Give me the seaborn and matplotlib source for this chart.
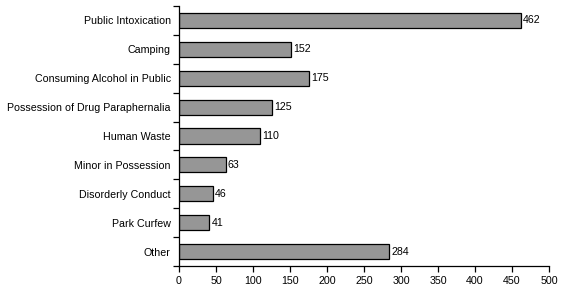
import matplotlib
matplotlib.use("Agg")
import matplotlib.pyplot as plt
import seaborn as sns
import pandas as pd
import numpy as np

categories = ["Public Intoxication", "Camping", "Consuming Alcohol in Public",
              "Possession of Drug Paraphernalia", "Human Waste", "Minor in Possession",
              "Disorderly Conduct", "Park Curfew", "Other"]
values = [462, 152, 175, 125, 110, 63, 46, 41, 284]
xticks = [0, 50, 100, 150, 200, 250, 300, 350, 400, 450, 500]

sns.set_style("white")
plt.rcParams['font.family'] = ['Liberation Sans', 'DejaVu Sans']
plt.rcParams['text.color'] = 'black'
plt.rcParams['xtick.color'] = 'black'
plt.rcParams['ytick.color'] = 'black'
plt.rcParams['axes.labelcolor'] = 'black'

df = pd.DataFrame({"category": categories, "value": values})

fig = plt.figure(figsize=(5.67, 2.98), dpi=100)
ax = fig.add_axes([179/567, 32/298, (549-179)/567, (292-32)/298])

sns.barplot(data=df, y="category", x="value", orient="h", color="#969696",
            edgecolor="black", linewidth=0.9, width=0.52, saturation=1, ax=ax)

fs = 7.7
for i, v in enumerate(values):
    ax.text(v + 3, i, str(v), va="center", ha="left", fontsize=fs, color="black")

ax.set_xlim(0, 500)
ax.set_ylim(len(categories) - 0.5, -0.5)
ax.set_xticks(xticks)
ax.set_xticklabels([str(t) for t in xticks], fontsize=fs)
ax.set_yticks(range(len(categories)))
ax.set_yticklabels(categories, fontsize=fs)
ax.set_yticks(np.arange(-0.5, len(categories)), minor=True)
ax.tick_params(axis="y", which="major", length=0, pad=6)
ax.tick_params(axis="y", which="minor", length=4, width=0.9, color="black", direction="out", left=True)
ax.tick_params(axis="x", which="major", length=4, width=0.9, color="black", direction="out", bottom=True, pad=3)
ax.set_xlabel("")
ax.set_ylabel("")
for s in ["top", "right"]:
    ax.spines[s].set_visible(False)
for s in ["left", "bottom"]:
    ax.spines[s].set_color("black")
    ax.spines[s].set_linewidth(0.9)

fig.savefig("out.png", dpi=100)
